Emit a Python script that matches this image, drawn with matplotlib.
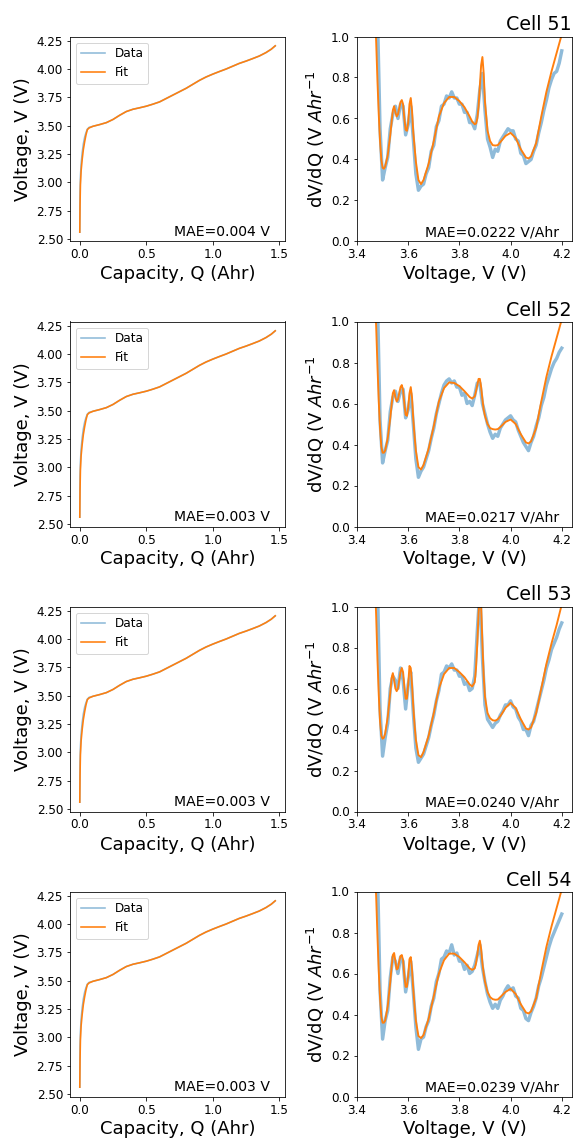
#!/usr/bin/env python

import numpy as np
import matplotlib

matplotlib.use('agg')

import matplotlib.pyplot as plt

cells = [51, 52, 53, 54]
mae_volt = ['0.004', '0.003', '0.003', '0.003']
mae_dvdq = ['0.0222', '0.0217', '0.0240', '0.0239']

# charge curve, capacity (Ahr) vs voltage (V)
cap_q = [0.000, 0.002, 0.005, 0.010, 0.018, 0.027, 0.037, 0.047, 0.057, 0.070,
         0.10, 0.15, 0.20, 0.25, 0.30, 0.35, 0.40, 0.45, 0.50, 0.55,
         0.60, 0.65, 0.70, 0.75, 0.80, 0.85, 0.90, 0.95, 1.00, 1.05,
         1.10, 1.15, 1.20, 1.25, 1.30, 1.35, 1.40, 1.44, 1.47]
volt_data = [2.56, 2.92, 3.05, 3.16, 3.26, 3.34, 3.40, 3.44, 3.47, 3.485,
             3.495, 3.51, 3.527, 3.555, 3.592, 3.625, 3.645, 3.658, 3.672, 3.69,
             3.71, 3.74, 3.77, 3.80, 3.83, 3.865, 3.90, 3.93, 3.955, 3.978,
             4.00, 4.025, 4.05, 4.07, 4.092, 4.115, 4.145, 4.175, 4.205]
volt_fit = [2.56, 2.80, 2.98, 3.10, 3.20, 3.29, 3.36, 3.42, 3.465, 3.48,
            3.495, 3.51, 3.527, 3.555, 3.592, 3.625, 3.645, 3.658, 3.672, 3.69,
            3.71, 3.74, 3.77, 3.80, 3.83, 3.865, 3.90, 3.93, 3.955, 3.978,
            4.00, 4.025, 4.05, 4.07, 4.092, 4.115, 4.145, 4.175, 4.205]

# measured dV/dQ, sampled every 10 mV from 3.48 V to 4.20 V
data_v = np.round(np.arange(348, 421) / 100, 2)

data_51 = [1.10, 0.55, 0.30, 0.36, 0.41, 0.55, 0.62, 0.66, 0.60, 0.67,
           0.66, 0.52, 0.57, 0.66, 0.50, 0.33, 0.25, 0.27, 0.28, 0.33,
           0.36, 0.44, 0.47, 0.56, 0.59, 0.66, 0.67, 0.71, 0.70, 0.73,
           0.70, 0.70, 0.67, 0.67, 0.63, 0.63, 0.58, 0.58, 0.55, 0.62,
           0.74, 0.82, 0.64, 0.50, 0.46, 0.41, 0.45, 0.44, 0.49, 0.51,
           0.53, 0.55, 0.54, 0.54, 0.50, 0.49, 0.43, 0.42, 0.38, 0.39,
           0.40, 0.44, 0.47, 0.53, 0.58, 0.64, 0.69, 0.75, 0.79, 0.82,
           0.83, 0.87, 0.93]
data_52 = [1.10, 0.52, 0.31, 0.37, 0.42, 0.56, 0.63, 0.66, 0.61, 0.66,
           0.67, 0.53, 0.57, 0.65, 0.50, 0.33, 0.24, 0.27, 0.29, 0.33,
           0.37, 0.43, 0.48, 0.55, 0.60, 0.65, 0.69, 0.71, 0.72, 0.70,
           0.71, 0.68, 0.68, 0.64, 0.65, 0.60, 0.61, 0.59, 0.64, 0.70,
           0.70, 0.60, 0.55, 0.50, 0.46, 0.43, 0.45, 0.44, 0.48, 0.50,
           0.52, 0.53, 0.54, 0.52, 0.51, 0.47, 0.44, 0.41, 0.39, 0.37,
           0.41, 0.44, 0.49, 0.53, 0.59, 0.63, 0.69, 0.73, 0.77, 0.80,
           0.82, 0.85, 0.87]
data_53 = [1.10, 0.50, 0.27, 0.36, 0.43, 0.60, 0.66, 0.64, 0.60, 0.70,
           0.64, 0.50, 0.62, 0.68, 0.48, 0.31, 0.24, 0.26, 0.28, 0.32,
           0.36, 0.42, 0.47, 0.54, 0.59, 0.67, 0.68, 0.71, 0.70, 0.72,
           0.69, 0.69, 0.66, 0.66, 0.62, 0.63, 0.59, 0.60, 0.66, 0.88,
           1.08, 0.75, 0.52, 0.45, 0.43, 0.41, 0.43, 0.44, 0.47, 0.49,
           0.52, 0.52, 0.54, 0.51, 0.50, 0.46, 0.44, 0.40, 0.40, 0.37,
           0.42, 0.44, 0.49, 0.54, 0.59, 0.64, 0.70, 0.74, 0.79, 0.82,
           0.85, 0.89, 0.92]
data_54 = [1.10, 0.52, 0.28, 0.37, 0.42, 0.58, 0.68, 0.66, 0.60, 0.68,
           0.66, 0.51, 0.58, 0.66, 0.51, 0.34, 0.23, 0.28, 0.29, 0.34,
           0.37, 0.44, 0.48, 0.56, 0.60, 0.67, 0.68, 0.71, 0.70, 0.74,
           0.69, 0.70, 0.66, 0.66, 0.62, 0.64, 0.60, 0.61, 0.64, 0.69,
           0.74, 0.63, 0.56, 0.50, 0.46, 0.43, 0.45, 0.43, 0.47, 0.49,
           0.52, 0.54, 0.52, 0.53, 0.49, 0.48, 0.43, 0.42, 0.38, 0.37,
           0.41, 0.44, 0.48, 0.54, 0.58, 0.63, 0.68, 0.73, 0.77, 0.80,
           0.83, 0.86, 0.89]

# fitted dV/dQ, denser around the sharp peaks
fit_v = [3.470, 3.475, 3.480, 3.485, 3.490, 3.495, 3.500, 3.505, 3.510,
         3.520, 3.530, 3.535, 3.540, 3.545, 3.550, 3.555, 3.560, 3.565, 3.570, 3.575,
         3.580, 3.585, 3.590, 3.595, 3.600, 3.605, 3.610, 3.615, 3.620, 3.625, 3.630,
         3.640, 3.650, 3.660, 3.680, 3.700, 3.720, 3.740, 3.760, 3.780, 3.800,
         3.820, 3.840, 3.850, 3.860,
         3.865, 3.870, 3.875, 3.880, 3.885, 3.890, 3.895, 3.900, 3.910, 3.920,
         3.930, 3.940, 3.950, 3.960,
         3.980, 4.000, 4.020, 4.040, 4.060, 4.070, 4.080, 4.100, 4.120, 4.140,
         4.160, 4.180, 4.200]

fit_51 = [1.12, 0.97, 0.78, 0.62, 0.49, 0.40, 0.36, 0.355, 0.365,
          0.42, 0.52, 0.58, 0.64, 0.66, 0.63, 0.61, 0.62, 0.65, 0.68, 0.69,
          0.67, 0.60, 0.545, 0.54, 0.58, 0.67, 0.70, 0.64, 0.53, 0.46, 0.39,
          0.30, 0.28, 0.30, 0.38, 0.49, 0.61, 0.675, 0.705, 0.705, 0.685,
          0.655, 0.61, 0.585, 0.572,
          0.575, 0.60, 0.66, 0.76, 0.86, 0.90, 0.82, 0.68, 0.54, 0.49,
          0.47, 0.468, 0.47, 0.485,
          0.515, 0.53, 0.505, 0.45, 0.41, 0.405, 0.415, 0.48, 0.61, 0.73,
          0.83, 0.92, 1.01]
fit_52 = [1.12, 0.97, 0.78, 0.61, 0.48, 0.39, 0.36, 0.36, 0.37,
          0.43, 0.53, 0.59, 0.65, 0.665, 0.63, 0.61, 0.62, 0.65, 0.68, 0.69,
          0.665, 0.60, 0.545, 0.54, 0.58, 0.65, 0.68, 0.63, 0.52, 0.44, 0.37,
          0.29, 0.278, 0.30, 0.38, 0.49, 0.61, 0.675, 0.703, 0.70, 0.685,
          0.66, 0.632, 0.624, 0.635,
          0.66, 0.69, 0.72, 0.72, 0.68, 0.62, 0.57, 0.54, 0.50, 0.48,
          0.475, 0.473, 0.475, 0.485,
          0.51, 0.522, 0.50, 0.45, 0.41, 0.405, 0.415, 0.48, 0.61, 0.73,
          0.83, 0.92, 1.01]
fit_53 = [1.12, 0.95, 0.74, 0.57, 0.44, 0.37, 0.355, 0.36, 0.38,
          0.46, 0.58, 0.65, 0.675, 0.64, 0.60, 0.587, 0.60, 0.64, 0.68, 0.70,
          0.68, 0.61, 0.55, 0.55, 0.62, 0.71, 0.70, 0.62, 0.51, 0.42, 0.35,
          0.275, 0.265, 0.29, 0.37, 0.48, 0.60, 0.67, 0.70, 0.70, 0.68,
          0.655, 0.62, 0.61, 0.63,
          0.70, 0.82, 0.97, 1.06, 1.00, 0.82, 0.66, 0.56, 0.48, 0.455,
          0.445, 0.443, 0.45, 0.465,
          0.505, 0.53, 0.505, 0.45, 0.405, 0.40, 0.41, 0.48, 0.60, 0.72,
          0.82, 0.91, 1.01]
fit_54 = [1.12, 0.97, 0.78, 0.61, 0.48, 0.39, 0.36, 0.36, 0.37,
          0.44, 0.56, 0.63, 0.69, 0.70, 0.66, 0.62, 0.625, 0.66, 0.685, 0.69,
          0.665, 0.59, 0.535, 0.535, 0.59, 0.67, 0.68, 0.62, 0.52, 0.44, 0.37,
          0.295, 0.285, 0.30, 0.38, 0.49, 0.60, 0.665, 0.697, 0.697, 0.68,
          0.655, 0.625, 0.618, 0.625,
          0.65, 0.69, 0.74, 0.76, 0.72, 0.65, 0.60, 0.56, 0.51, 0.485,
          0.475, 0.472, 0.473, 0.485,
          0.51, 0.525, 0.50, 0.45, 0.41, 0.405, 0.415, 0.48, 0.61, 0.73,
          0.83, 0.92, 1.01]

dvdq_data = [data_51, data_52, data_53, data_54]
dvdq_fit = [fit_51, fit_52, fit_53, fit_54]

DATA_COLOR = '#8fbbd9'
FIT_COLOR = '#ff7f0e'


def plot_voltage(ax, mae):
    ax.plot(cap_q, volt_data, color=DATA_COLOR, lw=1.6, label='Data')
    ax.plot(cap_q, volt_fit, color=FIT_COLOR, lw=1.6, label='Fit')
    ax.set_yticks([2.5, 2.75, 3.0, 3.25, 3.5, 3.75, 4.0, 4.25])
    ax.set_yticklabels(['2.50', '2.75', '3.00', '3.25', '3.50', '3.75', '4.00', '4.25'])
    ax.set_xticks([0.0, 0.5, 1.0, 1.5])
    ax.set_xlabel('Capacity, Q (Ahr)', fontsize=18)
    ax.set_ylabel('Voltage, V (V)', fontsize=18)
    ax.legend(loc='upper left', fontsize=12)
    ax.text(0.93, 0.025, 'MAE=%s V' % mae, transform=ax.transAxes,
            ha='right', va='baseline', fontsize=14)


def plot_dvdq(ax, cell, data, fit, mae):
    ax.plot(data_v, data, color=DATA_COLOR, lw=3.4)
    ax.plot(fit_v, fit, color=FIT_COLOR, lw=1.9)
    ax.set_xlim(3.4, 4.24)
    ax.set_ylim(0, 1.0)
    ax.set_xticks([3.4, 3.6, 3.8, 4.0, 4.2])
    ax.set_xlabel('Voltage, V (V)', fontsize=18)
    ax.set_ylabel(r'dV/dQ (V $Ahr^{-1}$', fontsize=18)
    ax.set_title('Cell %d' % cell, loc='right', fontsize=19)
    ax.text(0.94, 0.025, 'MAE=%s V/Ahr' % mae, transform=ax.transAxes,
            ha='right', va='baseline', fontsize=14)


def main():
    fig = plt.figure(figsize=(574 / 72, 1139 / 72), dpi=72)
    for i, cell in enumerate(cells):
        bottom = 1 - (241.5 + 285 * i) / 1139
        ax_l = fig.add_axes([70 / 574, bottom, 215 / 574, 205 / 1139])
        ax_r = fig.add_axes([357 / 574, bottom, 215 / 574, 205 / 1139])
        for ax in (ax_l, ax_r):
            ax.tick_params(labelsize=12)
        plot_voltage(ax_l, mae_volt[i])
        plot_dvdq(ax_r, cell, dvdq_data[i], dvdq_fit[i], mae_dvdq[i])

    fig.savefig('out.png', dpi=72)


if __name__ == '__main__':
    main()
